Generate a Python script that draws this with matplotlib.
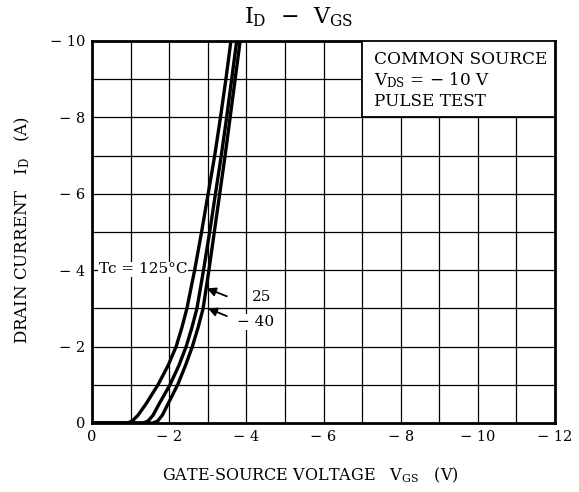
import matplotlib
matplotlib.use("Agg")
import matplotlib.pyplot as plt
import numpy as np

# ---- data ----
id_levels = [0, 0, -0.05, -0.2, -0.5, -1, -1.5, -2, -2.5, -3, -4, -5, -6, -7, -8, -9, -10]
vgs_125 = [0, -0.92, -1.04, -1.19, -1.40, -1.71, -1.97, -2.18, -2.33, -2.46, -2.66, -2.84, -3.01, -3.18, -3.33, -3.47, -3.60]
vgs_25 = [0, -1.33, -1.45, -1.58, -1.74, -2.02, -2.25, -2.44, -2.59, -2.72, -2.89, -3.05, -3.20, -3.35, -3.49, -3.62, -3.75]
vgs_m40 = [0, -1.58, -1.70, -1.82, -1.97, -2.22, -2.42, -2.60, -2.75, -2.88, -3.03, -3.17, -3.31, -3.45, -3.58, -3.71, -3.84]

x_ticks = [0, -2, -4, -6, -8, -10, -12]
x_ticklabels = ["0", "\u2212 2", "\u2212 4", "\u2212 6", "\u2212 8", "\u2212 10", "\u2212 12"]
y_ticks = [0, -2, -4, -6, -8, -10]
y_ticklabels = ["0", "\u2212 2", "\u2212 4", "\u2212 6", "\u2212 8", "\u2212 10"]

plt.rcParams['font.family'] = ['DejaVu Serif']
plt.rcParams['mathtext.fontset'] = 'dejavuserif'

fig = plt.figure(figsize=(5.79, 4.92), dpi=100)
ax = fig.add_axes([92/579, 1-423/492, (555-92)/579, (423-41)/492])

ax.set_xlim(0, -12)
ax.set_ylim(0, -10)

# grid every 1 unit
for v in range(-11, 0):
    ax.axvline(v, color='black', lw=0.9, zorder=1)
for i in range(-9, 0):
    ax.axhline(i, color='black', lw=0.9, zorder=1)

for s in ax.spines.values():
    s.set_linewidth(2.0)

ax.set_xticks(x_ticks)
ax.set_xticklabels(x_ticklabels, fontsize=10.5)
ax.set_yticks(y_ticks)
ax.set_yticklabels(y_ticklabels, fontsize=10.5)
ax.tick_params(length=0, pad=5)

for xs in [vgs_125, vgs_25, vgs_m40]:
    ax.plot(xs, id_levels, color='black', lw=2.4, zorder=3, solid_joinstyle='round')

# condition box
ax.text(-7.3, -9.74,
        "COMMON SOURCE\n$\\mathregular{V_{DS}}$ = \u2212 10 V\nPULSE TEST",
        fontsize=12.2, va='top', ha='left', linespacing=1.18, zorder=6)
ax.add_patch(plt.Rectangle((-7, -8), -5, -2, facecolor='white', edgecolor='black',
                           lw=1.3, zorder=5))

# annotations
ax.text(-0.18, -4.02, "Tc = 125\u00b0C", fontsize=11, va='center', ha='left', zorder=4,
        bbox=dict(boxstyle='square,pad=0.05', facecolor='white', edgecolor='none'))
ax.annotate("", xy=(-2.91, -3.55), xytext=(-3.56, -3.29),
            arrowprops=dict(arrowstyle='-|>', color='black', lw=1.3, mutation_scale=13), zorder=4)
ax.annotate("", xy=(-2.94, -3.03), xytext=(-3.56, -2.77),
            arrowprops=dict(arrowstyle='-|>', color='black', lw=1.3, mutation_scale=13), zorder=4)
ax.text(-4.15, -3.29, "25", fontsize=11, va='center', ha='left', zorder=4,
        bbox=dict(boxstyle='square,pad=0.05', facecolor='white', edgecolor='none'))
ax.text(-3.75, -2.64, "\u2212 40", fontsize=11, va='center', ha='left', zorder=4,
        bbox=dict(boxstyle='square,pad=0.05', facecolor='white', edgecolor='none'))

# titles / labels
fig.text(299/579, 1-17/492, "$\\mathregular{I_D}$  \u2212  $\\mathregular{V_{GS}}$",
         fontsize=16, ha='center', va='center')
fig.text(310/579, 1-475/492, "GATE-SOURCE VOLTAGE   $\\mathregular{V_{GS}}$   (V)",
         fontsize=11.5, ha='center', va='center')
fig.text(22/579, 1-230/492, "DRAIN CURRENT   $\\mathregular{I_D}$   (A)",
         fontsize=12, ha='center', va='center', rotation=90)

fig.savefig("out.png", dpi=100, facecolor='white')
